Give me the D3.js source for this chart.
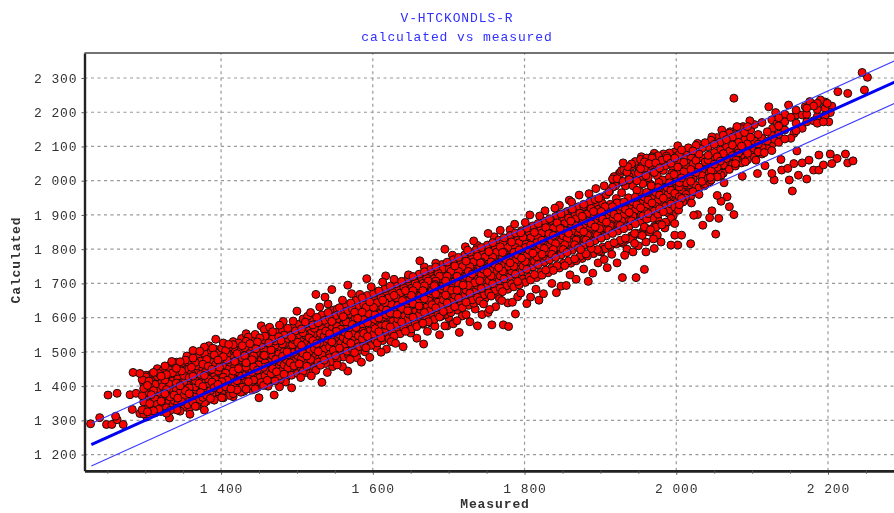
<!DOCTYPE html>
<html>
<head>
<meta charset="utf-8">
<script src="https://cdn.jsdelivr.net/npm/d3@7"></script>
<style>
  html, body { margin: 0; padding: 0; background: #fff; overflow: hidden; }
  svg { display: block; filter: blur(0.35px); }
  text { font-family: "Liberation Mono", monospace; font-size: 13px; letter-spacing: 0.9px; fill: #333; }
</style>
</head>
<body>
<svg width="894" height="513"></svg>
<script>
const titleLines = ["V-HTCKONDLS-R", "calculated vs measured"];
const xLabel = "Measured";
const yLabel = "Calculated";
const xTicks = [1400, 1600, 1800, 2000, 2200];
const xMinorTicks = [1250, 1300, 1350, 1450, 1500, 1550, 1650, 1700, 1750, 1850, 1900, 1950, 2050, 2100, 2150, 2250];
const yTicks = [1200, 1300, 1400, 1500, 1600, 1700, 1800, 1900, 2000, 2100, 2200, 2300];

// fit line and the two limits, measured -> calculated
const fitLine = [[1229, 1229], [2300, 2300]];
const upperLine = [[1229, 1291], [2300, 2362]];
const lowerLine = [[1229, 1167], [2300, 2238]];

// single points around the edge of the cloud, [measured, calculated]
const lowEndPoints = [[1228,1290],[1240,1308],[1249,1288],[1256,1288],[1263,1302],[1263,1379],[1251,1374],[1271,1288],[1261,1312],[1284,1440],[1293,1437],[1301,1432],[1280,1375],[1288,1379],[1283,1332],[1293,1320],[1302,1310],[1309,1330],[1332,1307],[1310,1432],[1316,1428],[1326,1459],[1335,1472],[1348,1467],[1363,1504],[1378,1514],[1384,1518],[1393,1537],[1403,1526],[1416,1530],[1433,1553],[1436,1543],[1453,1576],[1457,1565],[1464,1572],[1482,1589],[1500,1619],[1514,1604],[1525,1668],[1537,1660],[1546,1682],[1567,1695],[1592,1714],[1617,1722],[1662,1766]];
const lowerEdgePoints = [[1342,1330],[1359,1318],[1368,1341],[1378,1351],[1378,1330],[1401,1366],[1416,1369],[1450,1366],[1470,1374],[1493,1395],[1477,1398],[1519,1430],[1533,1411],[1547,1457],[1567,1444],[1560,1457],[1579,1483],[1596,1484],[1611,1499],[1624,1530],[1667,1523],[1677,1584],[1695,1576],[1690,1604],[1666,1584],[1698,1576],[1714,1557],[1711,1591],[1738,1576],[1757,1579],[1772,1579],[1779,1574],[1788,1611],[1778,1643],[1803,1641],[1819,1651],[1791,1661],[1842,1673],[1855,1694],[1884,1706],[1929,1717],[1947,1717],[1958,1741],[1909,1746],[1767,1655],[1754,1624],[1744,1609],[1723,1609]];
const upperEdgePoints = [[1930,2052],[1954,2070],[1971,2080],[1990,2075],[1922,2006],[1894,1977],[1872,1958],[1859,1943],[1846,1928],[1827,1912],[1807,1900],[1787,1873],[1768,1855],[1752,1846],[1733,1824],[1722,1807],[1695,1800]];
const highEndPoints = [[2245,2316],[2252,2302],[2248,2265],[2213,2260],[2226,2255],[2076,2241],[2122,2216],[2148,2221],[2131,2199],[2205,2218],[2190,2236],[2176,2231],[2170,2216],[2181,2218],[2199,2226],[2203,2199],[2194,2172],[2201,2172],[2181,2175],[2166,2192],[2151,2185],[2166,2153],[2155,2138],[2151,2124],[2129,2121],[2127,2153],[2133,2167],[2097,2175],[2080,2158],[2060,2148],[2047,2128],[2028,2109],[2002,2102],[2071,2143],[2088,2158]];
const rightLowPoints = [[2159,2087],[2223,2078],[2233,2058],[2226,2052],[2203,2078],[2188,2075],[2212,2065],[2205,2050],[2194,2046],[2188,2031],[2181,2031],[2175,2060],[2166,2052],[2155,2050],[2161,2016],[2172,2005],[2149,2002],[2153,1970],[2139,2031],[2138,2062],[2129,2002],[2126,2021],[2117,2044],[2147,2036],[2107,2021],[2087,2013],[2105,2060],[2116,2082],[2091,2055],[2078,2050],[2063,1994],[2044,1997],[2059,2016]];
const middleLowPoints = [[2054,1957],[2067,1953],[2059,1940],[2070,1924],[2076,1901],[2056,1890],[2047,1912],[2044,1892],[2028,1901],[2023,1899],[2035,1870],[2052,1844],[2009,1938],[2003,1914],[2018,1966],[2019,1816],[2007,1841],[1998,1841],[2002,1812],[1993,1812],[1998,1875],[1993,1890],[1975,1841],[1980,1821],[1971,1802],[1976,1887],[1969,1890],[1958,1865],[1960,1821],[1945,1846],[1945,1817],[1930,1817],[1943,1792],[1960,1792],[1932,1782],[1888,1802],[1901,1792],[1874,1799]];
const upperFringe = [[1305,1415],[1322,1446],[1341,1470],[1355,1488],[1372,1502],[1389,1511],[1410,1522],[1427,1539],[1445,1551],[1468,1559],[1477,1578],[1495,1590],[1508,1596],[1518,1615],[1530,1631],[1541,1640],[1553,1625],[1560,1651],[1572,1670],[1583,1668],[1598,1690],[1606,1676],[1613,1704],[1628,1712],[1635,1695],[1647,1725],[1655,1708],[1668,1748],[1675,1730],[1683,1759],[1692,1742],[1705,1782],[1712,1768],[1725,1797],[1738,1811],[1744,1795],[1760,1836],[1772,1822],[1781,1857],[1795,1848],[1801,1878],[1815,1866],[1820,1897],[1835,1884],[1840,1920],[1853,1905],[1862,1938],[1878,1925],[1885,1962],[1898,1949],[1905,1985],[1912,1968],[1918,2012]];
const gapFill = [[1925,2022],[1930,1998],[1934,2038],[1938,2012],[1943,1985],[1947,2048],[1950,2022],[1955,2002],[1958,2055],[1962,2032],[1966,1990],[1968,2066],[1972,2045],[1975,2014],[1979,2060],[1983,2030],[1986,2000],[1990,2052],[1994,2022],[1998,2066],[2002,2040],[2006,2070],[1935,2025],[1941,2042],[1948,2000],[1953,2035],[1960,2015],[1964,2050],[1969,2025],[1974,2070],[1977,1995],[1982,2048],[1987,2072],[1991,2010],[1996,2036],[2000,2010],[2005,2025],[2010,2054],[1928,2030],[1924,1995],[1920,1985],[1916,2005]];
const lowerFringe = [[1430,1385],[1445,1392],[1462,1400],[1485,1412],[1505,1425],[1512,1440],[1525,1446],[1540,1440],[1553,1462],[1570,1478],[1585,1470],[1590,1500],[1605,1512],[1618,1508],[1630,1525],[1640,1515],[1650,1555],[1658,1540],[1672,1560],[1682,1575],[1688,1550],[1700,1600],[1706,1582],[1718,1605],[1728,1588],[1735,1625],[1746,1640],[1752,1615],[1762,1632],[1770,1650],[1784,1645],[1795,1672],[1808,1660],[1815,1683],[1825,1670],[1836,1700],[1848,1692],[1860,1725],[1868,1712],[1878,1742],[1890,1730],[1897,1760],[1905,1770],[1915,1785],[1922,1760],[1935,1800],[1940,1830],[1950,1810],[1955,1840],[1965,1850],[1970,1830],[1985,1862],[1990,1905],[2000,1925],[2012,1950],[2020,1935],[2030,1960],[2037,1985],[2045,2010],[2055,2030]];
const centerExtra = [[1332,1362],[1344,1408],[1358,1425],[1367,1390],[1379,1440],[1388,1405],[1395,1462],[1404,1428],[1411,1470],[1419,1442],[1428,1482],[1433,1455],[1442,1500],[1449,1462],[1457,1490],[1463,1515],[1472,1478],[1479,1533],[1487,1500],[1494,1521],[1502,1512],[1509,1538],[1517,1502],[1522,1552],[1530,1525],[1537,1570],[1545,1538],[1552,1560],[1559,1530],[1565,1588],[1573,1552],[1580,1598],[1587,1560],[1594,1612],[1602,1595],[1610,1622],[1617,1578],[1624,1640],[1632,1610],[1639,1650],[1646,1620],[1653,1668],[1661,1634],[1667,1680],[1674,1650],[1682,1697],[1689,1662],[1697,1712],[1704,1680],[1711,1725],[1719,1695],[1726,1740],[1734,1702],[1742,1760],[1749,1720],[1757,1778],[1764,1735],[1771,1790],[1779,1750],[1787,1805],[1794,1762],[1802,1815],[1809,1775],[1817,1832],[1824,1790],[1832,1845],[1839,1800],[1847,1860],[1854,1818],[1862,1872],[1869,1830],[1877,1888],[1884,1845],[1892,1900],[1899,1860],[1907,1916],[1914,1872],[1922,1935],[1929,1890],[1937,1950],[1944,1905],[1952,1968],[1959,1925],[1967,1985],[1974,1945],[1982,2002],[1989,1960],[1997,2018],[2004,1982],[2012,2030],[2019,2000],[2027,2044],[2034,2015],[2042,2060],[2049,2030],[2057,2072],[2064,2048],[2072,2088],[2079,2060],[2087,2098],[2094,2076],[2102,2110],[2109,2092]];

// the dense part of the cloud, read as [measured, [calculated, ...]]
const core1300 = [
[1296,[1331,1372,1419]],[1298,[1319,1354,1393,1408]],[1301,[1342,1366,1427]],[1303,[1325,1381,1402]],[1306,[1317,1349,1396,1433]],[1308,[1358,1375,1414]],
[1311,[1328,1341,1387,1440]],[1313,[1322,1363,1405,1421]],[1316,[1347,1392,1451]],[1318,[1333,1370,1382,1437]],[1321,[1326,1356,1412,1429]],[1323,[1344,1399,1445]],
[1326,[1361,1378,1418,1456]],[1328,[1321,1337,1390,1434]],[1331,[1352,1407,1423,1448]],[1333,[1329,1368,1385,1461]],[1336,[1343,1396,1415,1439]],[1338,[1358,1374,1428,1466]],
[1341,[1335,1389,1409,1452]],[1343,[1349,1365,1421,1437]],[1346,[1327,1381,1401,1471]],[1348,[1355,1393,1444,1458]],[1351,[1340,1372,1413,1431]],[1353,[1362,1387,1426,1476]],
[1356,[1346,1403,1419,1449]],[1358,[1333,1378,1395,1463]],[1361,[1369,1411,1437,1455]],[1363,[1352,1384,1429,1482]],[1366,[1341,1398,1416,1469]],[1368,[1375,1391,1446,1459]],
[1371,[1358,1408,1424,1488]],[1373,[1347,1381,1434,1473]],[1376,[1367,1399,1451,1464]],[1378,[1389,1415,1431,1495]],[1381,[1356,1373,1442,1478]],[1383,[1403,1421,1458,1484]],
[1386,[1364,1387,1436,1501]],[1388,[1377,1412,1449,1469]],[1391,[1359,1396,1428,1491]],[1393,[1383,1419,1463,1507]],[1396,[1371,1405,1444,1476]],[1398,[1392,1432,1455,1498]],
[1401,[1379,1413,1469,1511]],[1403,[1366,1426,1448,1486]],[1406,[1398,1438,1461,1504]],[1408,[1384,1417,1476,1493]],[1411,[1373,1408,1452,1515]],[1413,[1392,1431,1466,1499]],
[1416,[1378,1423,1444,1483,1521]],[1418,[1403,1458,1472,1508]],[1421,[1389,1416,1437,1495]],[1423,[1411,1451,1481,1526]],[1426,[1382,1429,1464,1503]],[1428,[1397,1442,1475,1518]],
[1431,[1407,1419,1458,1489,1512]],[1433,[1391,1435,1468,1531]],[1436,[1413,1449,1483,1505]],[1438,[1401,1426,1462,1496,1524]],[1441,[1389,1441,1477,1515]],[1443,[1418,1456,1489,1536]],
[1446,[1405,1433,1470,1509]],[1448,[1396,1447,1484,1529]],[1451,[1425,1462,1498,1541]],[1453,[1411,1439,1476,1519]],[1456,[1402,1455,1491,1507]],[1458,[1431,1468,1534,1546]],
[1461,[1417,1445,1483,1513]],[1463,[1408,1459,1498,1526]],[1466,[1436,1474,1506,1551]],[1468,[1423,1451,1489,1539]],[1471,[1415,1465,1519,1532]],[1473,[1442,1481,1503,1557]],
[1476,[1429,1456,1494,1544]],[1478,[1419,1471,1512,1529]],[1481,[1447,1487,1523,1563]],[1483,[1435,1462,1501,1549]],[1486,[1426,1477,1517,1537]],[1488,[1453,1492,1529,1569]],
[1491,[1441,1468,1508,1555]],[1493,[1432,1484,1522,1543]],[1496,[1459,1499,1536,1574]],[1498,[1446,1475,1513,1561]]
];
const core1500 = [
[1501,[1437,1489,1528,1549]],[1503,[1465,1505,1543,1581]],[1506,[1452,1481,1519,1567]],[1508,[1443,1496,1534,1556]],[1511,[1471,1511,1549,1587]],[1513,[1458,1488,1526,1573]],
[1516,[1449,1503,1541,1562]],[1518,[1478,1517,1554,1593]],[1521,[1464,1494,1533,1579]],[1523,[1455,1509,1548,1569]],[1526,[1484,1524,1561,1601]],[1528,[1470,1501,1539,1585]],
[1531,[1461,1516,1554,1576]],[1533,[1491,1531,1568,1608]],[1536,[1476,1508,1546,1592]],[1538,[1466,1522,1561,1582]],[1541,[1498,1537,1575,1615]],[1543,[1483,1514,1553,1599]],
[1546,[1472,1529,1568,1589]],[1548,[1505,1544,1582,1622]],[1551,[1489,1521,1559,1606]],[1553,[1479,1535,1574,1596]],[1556,[1511,1551,1589,1629]],[1558,[1496,1527,1566,1613]],
[1561,[1485,1542,1581,1603]],[1563,[1518,1557,1596,1636]],[1566,[1502,1534,1573,1619]],[1568,[1491,1549,1588,1609]],[1571,[1525,1564,1603,1643]],[1573,[1508,1541,1580,1626]],
[1576,[1498,1555,1595,1616]],[1578,[1531,1571,1609,1651]],[1581,[1515,1547,1587,1633]],[1583,[1505,1561,1602,1623]],[1586,[1538,1578,1616,1658]],[1588,[1522,1554,1594,1639]],
[1591,[1512,1568,1609,1630]],[1593,[1545,1585,1623,1665]],[1596,[1528,1561,1601,1646]],[1598,[1519,1575,1616,1637]],[1601,[1552,1592,1630,1671]],[1603,[1535,1568,1608,1653]],
[1606,[1526,1582,1623,1644]],[1608,[1559,1599,1637,1678]],[1611,[1541,1575,1615,1660]],[1613,[1533,1589,1630,1651]],[1616,[1566,1606,1644,1685]],[1618,[1548,1582,1622,1667]],
[1621,[1539,1596,1637,1658]],[1623,[1573,1613,1651,1692]],[1626,[1555,1589,1629,1674]],[1628,[1546,1603,1644,1665]],[1631,[1580,1620,1658,1699]],[1633,[1562,1596,1636,1681]],
[1636,[1553,1610,1651,1672]],[1638,[1587,1627,1665,1706]],[1641,[1569,1603,1643,1688]],[1643,[1560,1617,1658,1679]],[1646,[1594,1634,1672,1713]],[1648,[1576,1610,1650,1695]],
[1651,[1567,1624,1665,1686]],[1653,[1601,1641,1679,1720]],[1656,[1583,1617,1657,1702]],[1658,[1574,1631,1672,1693]],[1661,[1608,1648,1686,1727]],[1663,[1590,1624,1664,1709]],
[1666,[1581,1638,1679,1700]],[1668,[1615,1655,1693,1734]],[1671,[1597,1631,1671,1716]],[1673,[1588,1645,1686,1707]],[1676,[1622,1662,1700,1741]],[1678,[1604,1638,1678,1723]],
[1681,[1595,1652,1693,1714]],[1683,[1629,1669,1707,1748]],[1686,[1611,1645,1685,1730]],[1688,[1602,1659,1700,1721]],[1691,[1636,1676,1714,1755]],[1693,[1618,1652,1692,1737]],
[1696,[1609,1666,1707,1728]],[1698,[1643,1683,1721,1762]]
];
const core1700 = [
[1701,[1625,1659,1699,1744]],[1703,[1615,1673,1714,1735]],[1706,[1650,1690,1728,1769]],[1708,[1632,1666,1706,1751]],[1711,[1622,1680,1721,1742]],[1713,[1657,1697,1735,1776]],
[1716,[1638,1673,1713,1758]],[1718,[1629,1687,1728,1749]],[1721,[1664,1704,1742,1783]],[1723,[1645,1680,1720,1765]],[1726,[1636,1694,1735,1756]],[1728,[1671,1711,1749,1791]],
[1731,[1652,1687,1727,1772]],[1733,[1642,1701,1742,1763]],[1736,[1678,1718,1756,1798]],[1738,[1659,1694,1734,1779]],[1741,[1649,1708,1749,1770]],[1743,[1685,1725,1763,1805]],
[1746,[1666,1701,1741,1786]],[1748,[1656,1715,1756,1777]],[1751,[1692,1732,1770,1812]],[1753,[1672,1708,1748,1793]],[1756,[1663,1722,1763,1784]],[1758,[1699,1739,1777,1819]],
[1761,[1679,1715,1755,1800]],[1763,[1669,1729,1770,1791]],[1766,[1706,1746,1784,1826]],[1768,[1686,1722,1762,1807]],[1771,[1676,1736,1777,1798]],[1773,[1713,1753,1791,1833]],
[1776,[1693,1729,1769,1814]],[1778,[1683,1743,1784,1805]],[1781,[1720,1760,1798,1840]],[1783,[1699,1736,1776,1821]],[1786,[1690,1750,1791,1812]],[1788,[1727,1767,1805,1847]],
[1791,[1706,1743,1783,1828]],[1793,[1696,1757,1798,1819]],[1796,[1734,1774,1812,1854]],[1798,[1713,1750,1790,1835]],[1801,[1703,1764,1805,1826]],[1803,[1741,1781,1819,1861]],
[1806,[1719,1757,1797,1842]],[1808,[1710,1771,1812,1833]],[1811,[1748,1788,1826,1868]],[1813,[1726,1764,1804,1849]],[1816,[1717,1778,1819,1840]],[1818,[1755,1795,1833,1875]],
[1821,[1732,1771,1811,1856]],[1823,[1724,1785,1826,1847]],[1826,[1762,1802,1840,1882]],[1828,[1739,1778,1818,1863]],[1831,[1731,1792,1833,1854]],[1833,[1769,1809,1847,1889]],
[1836,[1746,1785,1825,1870]],[1838,[1738,1799,1840,1861]],[1841,[1776,1816,1854,1896]],[1843,[1752,1792,1832,1877]],[1846,[1745,1806,1847,1868]],[1848,[1783,1823,1861,1903]],
[1851,[1759,1799,1839,1884]],[1853,[1752,1813,1854,1875]],[1856,[1790,1830,1868,1910]],[1858,[1766,1806,1846,1891]],[1861,[1759,1820,1861,1882]],[1863,[1797,1837,1875,1917]],
[1866,[1772,1813,1853,1898]],[1868,[1766,1827,1868,1889]],[1871,[1804,1844,1882,1924]],[1873,[1779,1820,1860,1905]],[1876,[1773,1834,1875,1896]],[1878,[1811,1851,1889,1931]],
[1881,[1786,1827,1867,1912]],[1883,[1780,1841,1882,1903]],[1886,[1818,1858,1896,1938]],[1888,[1792,1834,1874,1919]],[1891,[1787,1848,1889,1910]],[1893,[1825,1865,1903,1945]],
[1896,[1799,1841,1881,1926]],[1898,[1794,1855,1896,1917]]
];
const core1900 = [
[1901,[1832,1872,1910,1952]],[1903,[1806,1848,1888,1933]],[1906,[1801,1862,1903,1924]],[1908,[1839,1879,1917,1959]],[1911,[1812,1855,1895,1968]],[1913,[1808,1869,1910,1931]],
[1916,[1846,1886,1924,1981]],[1918,[1819,1862,1902,1994]],[1921,[1815,1876,1917,1948]],[1923,[1853,1893,1931,2008]],[1926,[1826,1869,1909,2021]],[1928,[1822,1883,1924,1965]],
[1931,[1860,1900,1938,2032]],[1933,[1832,1876,1916,1985]],[1936,[1829,1890,1931,2041]],[1938,[1867,1907,1945,2003]],[1941,[1839,1883,1923,2049]],[1943,[1836,1897,1938,2018]],
[1946,[1874,1914,1952,2056]],[1948,[1846,1890,1930,1972]],[1951,[1843,1904,1945,2029]],[1953,[1881,1921,1959,2062]],[1956,[1852,1897,1937,1991]],[1958,[1850,1911,1952,2037]],
[1961,[1888,1928,1966,2066]],[1963,[1859,1904,1944,2009]],[1966,[1857,1918,1959,2045]],[1968,[1895,1935,1973,2070]],[1971,[1866,1911,1951,2024]],[1973,[1864,1925,1966,2052]],
[1976,[1902,1942,1980,2073]],[1978,[1872,1918,1958,2037]],[1981,[1871,1932,1973,2060]],[1983,[1909,1949,1987,2078]],[1986,[1879,1925,1965,2044]],[1988,[1878,1939,1980,2066]],
[1991,[1916,1956,1994,2081]],[1993,[1886,1932,1972,2051]],[1996,[1898,1946,1987,2071]],[1998,[1923,1963,2001,2084]],[2001,[1938,1979,2019,2058]],[2004,[1930,1953,1994,2077]],
[2007,[1948,1970,2008,2090]],[2010,[1946,1986,2026,2064]],[2013,[1960,1994,2041,2082]],[2016,[1975,2012,2052,2096]],[2019,[1954,1998,2033,2071]],[2022,[1968,2006,2048,2087]],
[2026,[1986,2024,2059,2103]],[2030,[1979,2015,2040,2078]],[2034,[1998,2032,2066,2094]],[2038,[1990,2023,2055,2111]],[2042,[2008,2041,2074,2099]],[2046,[2002,2030,2063,2118]],
[2050,[2019,2048,2082,2106]],[2054,[2011,2039,2070,2126]],[2058,[2029,2057,2089,2113]],[2062,[2022,2046,2079,2133]],[2066,[2038,2065,2097,2120]],[2070,[2033,2055,2086,2139]],
[2074,[2048,2073,2104,2127]],[2078,[2043,2063,2093,2146]],[2082,[2058,2081,2112,2134]],[2086,[2052,2072,2101,2152]],[2090,[2067,2090,2119,2141]],[2094,[2061,2080,2108,2158]],
[2098,[2075,2098,2127,2148]],[2103,[2069,2089,2116,2164]],[2108,[2084,2107,2135]],[2113,[2078,2097,2124,2170]],[2120,[2094,2116,2143]],[2126,[2088,2106,2132,2178]],
[2135,[2112,2136,2160,2184]],[2143,[2122,2148,2172,2194]],[2158,[2146,2168,2192,2206]],[2172,[2172,2194,2212]],[2186,[2168,2188,2208,2226]],[2196,[2190,2212,2230]]
];

const width = 894;
const height = 513;
const svg = d3.select("svg");

const x = d3.scaleLinear().domain([1220, 2287]).range([84.5, 894]);
const y = d3.scaleLinear().domain([1153, 2373]).range([470.7, 53]);

// tick labels use a space as thousands separator
const spaced = d3.formatLocale({ decimal: ".", thousands: " ", grouping: [3], currency: ["", ""] }).format(",");

// grid
svg.append("g").selectAll("line").data(yTicks).join("line")
  .attr("x1", x.range()[0]).attr("x2", x.range()[1])
  .attr("y1", d => y(d)).attr("y2", d => y(d))
  .attr("stroke", "#999").attr("stroke-width", 1.2).attr("stroke-dasharray", "3,3.5");
svg.append("g").selectAll("line").data(xTicks).join("line")
  .attr("x1", d => x(d)).attr("x2", d => x(d))
  .attr("y1", y.range()[0]).attr("y2", y.range()[1])
  .attr("stroke", "#999").attr("stroke-width", 1.2).attr("stroke-dasharray", "3,3.5");

// flatten everything into one list of points
const singles = [].concat(lowEndPoints, lowerEdgePoints, upperEdgePoints, highEndPoints, rightLowPoints, middleLowPoints, upperFringe, gapFill, lowerFringe, centerExtra);
const columns = [].concat(core1300, core1500, core1700, core1900);
const points = singles.concat(columns.flatMap(c => c[1].map(v => [c[0], v])));

// left to right drawing gives stripes, so mix up the paint order a bit
points.sort((a, b) => (a[0] * 31 + a[1] * 17) % 101 - (b[0] * 31 + b[1] * 17) % 101);

svg.append("g").selectAll("circle").data(points).join("circle")
  .attr("cx", d => x(d[0]))
  .attr("cy", d => y(d[1]))
  .attr("r", 4)
  .attr("fill", "#f00")
  .attr("stroke", "#111")
  .attr("stroke-width", 1);

// fit and limit lines
const line = d3.line().x(d => x(d[0])).y(d => y(d[1]));
svg.append("path").datum(upperLine).attr("d", line).attr("fill", "none").attr("stroke", "#3a3aff").attr("stroke-width", 1.1);
svg.append("path").datum(lowerLine).attr("d", line).attr("fill", "none").attr("stroke", "#3a3aff").attr("stroke-width", 1.1);
svg.append("path").datum(fitLine).attr("d", line).attr("fill", "none").attr("stroke", "#0000f5").attr("stroke-width", 3);

// axes
svg.append("g").attr("transform", `translate(0,${y.range()[0]})`)
  .call(d3.axisBottom(x).tickValues(xTicks).tickFormat(spaced).tickSize(4).tickSizeOuter(0).tickPadding(9));
svg.append("g").attr("transform", `translate(0,${y.range()[0]})`)
  .call(d3.axisBottom(x).tickValues(xMinorTicks).tickFormat("").tickSize(3).tickSizeOuter(0));
svg.append("g").attr("transform", `translate(${x.range()[0]},0)`)
  .call(d3.axisLeft(y).tickValues(yTicks).tickFormat(spaced).tickSize(3).tickSizeOuter(0).tickPadding(4));
svg.selectAll(".domain").attr("stroke", "#222").attr("stroke-width", 2.4);
svg.selectAll(".tick line").attr("stroke", "#555");
svg.selectAll(".tick text").style("font-family", "'Liberation Mono', monospace").style("font-size", "13px").attr("fill", "#333");

// top edge of the plot
svg.append("line").attr("x1", x.range()[0]).attr("x2", width)
  .attr("y1", y.range()[1]).attr("y2", y.range()[1])
  .attr("stroke", "#444").attr("stroke-width", 1.6);

// titles
svg.selectAll(".title").data(titleLines).join("text")
  .attr("class", "title")
  .attr("x", 457)
  .attr("y", (d, i) => 22 + i * 19)
  .attr("text-anchor", "middle")
  .style("fill", "#3030ff")
  .text(d => d);

svg.append("text").attr("x", 495).attr("y", 508).attr("text-anchor", "middle").style("font-weight", "bold").text(xLabel);
svg.append("text").attr("transform", "translate(20,260) rotate(-90)").attr("text-anchor", "middle").style("font-weight", "bold").text(yLabel);
</script>
</body>
</html>
